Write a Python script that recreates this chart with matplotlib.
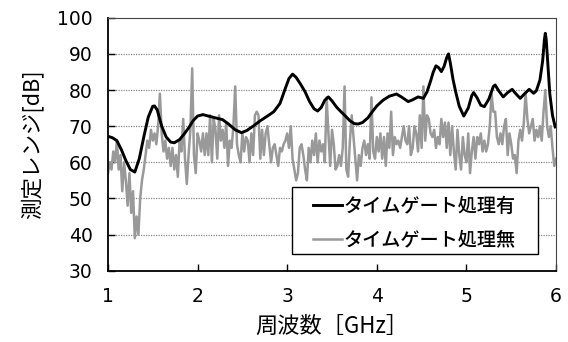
import numpy as np
import matplotlib
matplotlib.use("Agg")
import matplotlib.pyplot as plt
from matplotlib.patches import Rectangle

# Black curve: with time gating (タイムゲート処理有)
gated_freq = [1.00, 1.05, 1.10, 1.15, 1.20, 1.25, 1.30, 1.35, 1.40, 1.45, 1.50, 1.52, 1.55, 1.60,
              1.65, 1.70, 1.74, 1.80, 1.85, 1.90, 1.95, 2.00, 2.06, 2.12, 2.20, 2.28, 2.35, 2.42,
              2.49, 2.55, 2.62, 2.70, 2.78, 2.85, 2.92, 2.98, 3.02, 3.06, 3.10, 3.15, 3.20, 3.25,
              3.30, 3.34, 3.38, 3.42, 3.46, 3.50, 3.55, 3.60, 3.65, 3.70, 3.75, 3.79, 3.84, 3.90,
              3.95, 4.00, 4.07, 4.14, 4.22, 4.28, 4.35, 4.40, 4.46, 4.52, 4.56, 4.60, 4.63, 4.66,
              4.69, 4.72, 4.75, 4.78, 4.80, 4.82, 4.85, 4.88, 4.92, 4.97, 5.02, 5.06, 5.08, 5.12,
              5.16, 5.20, 5.25, 5.30, 5.32, 5.36, 5.41, 5.46, 5.51, 5.55, 5.60, 5.65, 5.70, 5.75,
              5.78, 5.82, 5.85, 5.87, 5.88, 5.89, 5.91, 5.93, 5.96, 5.99]
gated_db = [67.2, 66.8, 66.0, 63.5, 60.5, 58.0, 57.3, 61.0, 67.0, 72.5, 75.5, 75.6, 74.5, 70.0,
            67.0, 65.6, 65.4, 66.3, 67.8, 69.5, 71.5, 72.8, 73.2, 72.8, 72.3, 71.8, 70.5, 69.0,
            68.2, 68.8, 70.0, 71.5, 72.8, 74.0, 76.3, 80.5, 83.2, 84.4, 83.5, 81.6, 79.5, 76.8,
            74.8, 74.2, 75.2, 77.2, 78.1, 77.0, 75.3, 74.0, 72.8, 71.5, 70.7, 70.6, 71.0, 72.3,
            74.0, 75.6, 77.2, 78.3, 78.9, 78.0, 76.8, 77.3, 78.1, 77.7, 79.5, 82.5, 85.0, 86.7,
            86.2, 85.1, 86.5, 89.0, 90.0, 87.5, 83.0, 79.5, 75.5, 72.8, 75.0, 78.5, 79.3, 77.8,
            75.8, 75.4, 77.5, 81.0, 81.4, 79.8, 78.1, 79.3, 80.2, 79.0, 77.7, 79.0, 80.2, 79.1,
            79.8, 82.8, 88.0, 94.0, 95.7, 94.0, 86.5, 79.0, 73.0, 69.8]

# Gray curve: without time gating (タイムゲート処理無), sampled every 0.02 GHz from 1 to 6
raw_freq = np.round(np.arange(251) * 0.02 + 1.0, 2)
raw_db = [57, 60, 58, 63, 60, 66, 58, 62, 52, 60,
          55, 48, 57, 46, 52, 39, 45, 40, 50, 55,
          58, 62, 66, 64, 69, 66, 68, 65, 70, 79,
          68, 63, 66, 61, 64, 59, 64, 58, 62, 56,
          66, 63, 72, 61, 54, 62, 69, 86, 62, 57,
          68, 66, 63, 68, 62, 68, 62, 73, 60, 72,
          69, 61, 73, 66, 69, 64, 71, 59, 66, 64,
          70, 81, 65, 62, 60, 68, 63, 67, 66, 60,
          68, 62, 73, 74, 73, 61,
          69, 62, 68, 70, 65, 60, 64, 65, 62, 59,
          64, 63, 65, 66, 68, 64, 70, 61, 58, 55,
          57, 64, 65, 62, 58, 55, 64, 60, 66, 62,
          68, 60, 66, 63, 65, 60, 78, 68, 59, 69, 65,
          58, 59, 62, 59, 64, 81, 58, 56, 66, 73,
          67, 61, 55, 62, 59, 64, 66, 62, 65, 61,
          78, 63, 61, 67, 63, 68, 61, 67, 59, 68,
          64, 74, 62, 67, 65, 66, 64, 67, 70, 66, 65, 70,
          62, 64, 70, 68, 63, 73, 64, 81, 66, 73,
          72, 68, 67, 69, 64, 67, 65, 72, 67, 71,
          64, 71, 62, 70, 63, 58, 69, 62, 58, 67,
          62, 60, 68, 57, 63, 67, 61, 67, 65, 68, 63, 66,
          63, 65, 70, 79, 74, 74, 67, 65, 68, 65,
          70, 72, 62, 68, 65, 61, 62, 57, 66, 69,
          66, 71, 79, 72, 68, 70, 72, 66, 69, 67,
          70, 66, 74, 80, 70, 67, 70, 64, 59, 61]

x_ticks = [1, 2, 3, 4, 5, 6]
y_ticks = [30, 40, 50, 60, 70, 80, 90, 100]
label_gated = "タイムゲート処理有"
label_raw = "タイムゲート処理無"

jp = ["Noto Sans CJK JP", "DejaVu Sans"]
num = ["DejaVu Sans"]

fig = plt.figure(figsize=(5.68, 3.42), dpi=100)
ax = fig.add_axes([0.190, 0.2085, 0.789, 0.7395])

ax.plot(raw_freq, raw_db, color="#999999", lw=1.8, label=label_raw, zorder=2)
ax.plot(gated_freq, gated_db, color="black", lw=2.1, label=label_gated, zorder=3)

ax.set_xlim(1, 6)
ax.set_ylim(30, 100)
ax.set_xticks(x_ticks)
ax.set_yticks(y_ticks)
ax.set_xticklabels([str(v) for v in x_ticks], fontfamily=num, fontsize=13.5)
ax.set_yticklabels([str(v) for v in y_ticks], fontfamily=num, fontsize=13.5)
ax.tick_params(axis="both", direction="in", length=5, width=1, color="black")
ax.tick_params(axis="x", pad=12)
ax.tick_params(axis="y", pad=11)

for y in [40, 50, 60, 70, 80, 90]:
    ax.axhline(y, color="#888888", lw=0.9, ls=(0, (1, 1)), zorder=1)

for s in ["top", "right"]:
    ax.spines[s].set_linewidth(0.8)
    ax.spines[s].set_color("#444444")
for s in ["left", "bottom"]:
    ax.spines[s].set_linewidth(1.3)
    ax.spines[s].set_color("black")

ax.set_xlabel("周波数［GHz］", fontfamily=jp, fontsize=16, labelpad=6)
ax.set_ylabel("測定レンジ[dB]", fontfamily=jp, fontsize=15.5, labelpad=10)

# legend frame (drawn as a box in axes coordinates)
frame = Rectangle((0.411, 0.066), 0.549, 0.265, transform=ax.transAxes,
                  facecolor="white", edgecolor="black", lw=1.0, zorder=4)
ax.add_patch(frame)

handles, labels = ax.get_legend_handles_labels()
leg = ax.legend(handles[::-1], labels[::-1], loc="upper left",
                bbox_to_anchor=(0.4576, 0.297),
                prop={"family": jp, "size": 13.8, "weight": "medium"},
                frameon=False, handlelength=1.5, handletextpad=0.1,
                borderpad=0, labelspacing=0.72, borderaxespad=0)
leg.set_zorder(5)

fig.savefig("out.png", dpi=100)
